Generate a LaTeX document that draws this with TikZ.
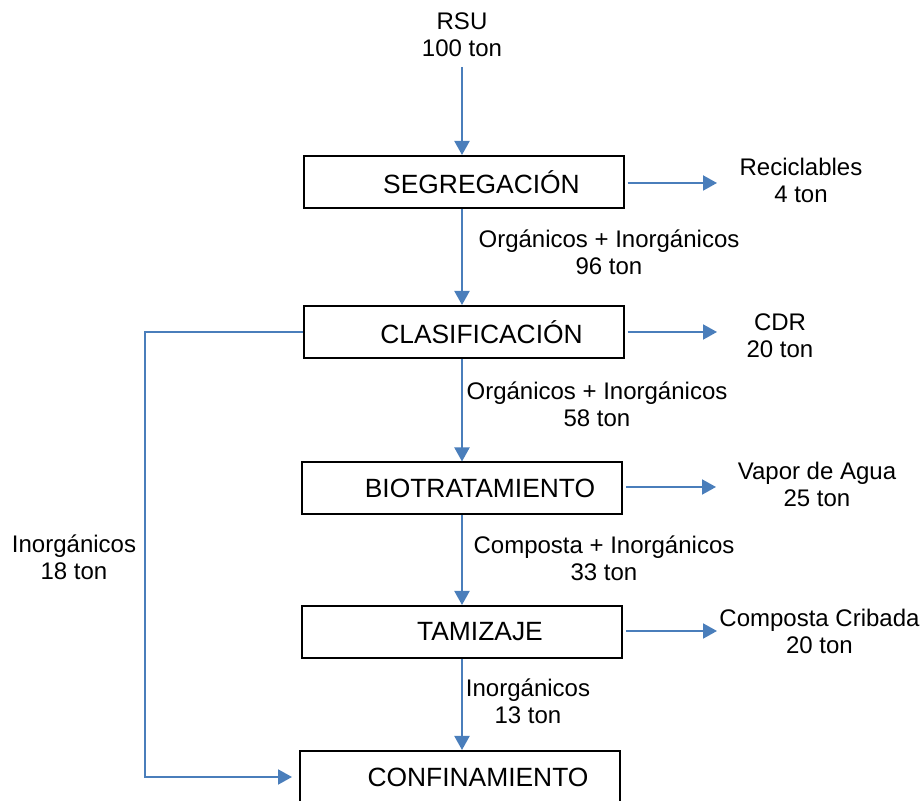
\documentclass[tikz,border=0pt]{standalone}
\usepackage{fontspec}
\setmainfont{Liberation Sans}
\usetikzlibrary{arrows.meta}
\definecolor{flowblue}{RGB}{74,126,187}

\begin{document}
\begin{tikzpicture}[x=0.5pt,y=-0.5pt,
  box/.style={draw, line width=1pt, minimum width=160pt, minimum height=26pt,
    inner sep=0pt, font=\fontsize{13.2}{14}\selectfont,
    execute at begin node={\hspace*{18pt}}},
  lbl/.style={align=center, inner sep=1pt, font=\fontsize{12}{13.5}\selectfont},
  flow/.style={draw=flowblue, line width=1pt,
    -{Triangle[width=7.5pt,length=7pt]}, fill=none}]
  \useasboundingbox (0,0) rectangle (922,801);

  % process boxes
  \node[box] (seg)  at (463.5,182)   {SEGREGACIÓN};
  \node[box] (cla)  at (463.5,332)   {CLASIFICACIÓN};
  \node[box] (bio)  at (462,488.5)   {BIOTRATAMIENTO};
  \node[box] (tam)  at (462,632)     {TAMIZAJE};
  \node[box] (conf) at (460,777)     {CONFINAMIENTO};

  % input
  \node[lbl] (rsu) at (462,34.5) {RSU\\100 ton};

  % outputs on the right
  \node[lbl] (rec)  at (801,180.5) {Reciclables\\4 ton};
  \node[lbl] (cdr)  at (780,335.5) {CDR\\20 ton};
  \node[lbl] (vap)  at (817,484.5) {Vapor de Agua\\25 ton};
  \node[lbl] (crib) at (819.5,631.5) {Composta Cribada\\20 ton};

  % arrow tips of the outputs
  \coordinate (recin)  at (717,183);
  \coordinate (cdrin)  at (717,332);
  \coordinate (vapin)  at (716,487);
  \coordinate (cribin) at (717,631);

  % flow labels
  \node[lbl] (org1) at (609,252.5) {Orgánicos + Inorgánicos\\96 ton};
  \node[lbl] (org2) at (597,404)   {Orgánicos + Inorgánicos\\58 ton};
  \node[lbl] (comp) at (604,558.5) {Composta + Inorgánicos\\33 ton};
  \node[lbl] (ino1) at (528,701.5) {Inorgánicos\\13 ton};
  \node[lbl] (ino2) at (74,557)    {Inorgánicos\\18 ton};

  % main line, kept on one vertical
  \coordinate (axis) at (462,0);
  \draw[flow] ([yshift=-4pt]rsu.south) -- (seg.north -| axis);
  \draw[flow] (seg.south -| axis) -- (cla.north -| axis);
  \draw[flow] (cla.south -| axis) -- (bio.north -| axis);
  \draw[flow] (bio.south -| axis) -- (tam.north -| axis);
  \draw[flow] (tam.south -| axis) -- (conf.north -| axis);

  % side outputs
  \draw[flow] ([xshift=1.5pt]seg.east |- recin) -- (recin);
  \draw[flow] ([xshift=1.5pt]cla.east |- cdrin) -- (cdrin);
  \draw[flow] ([xshift=1.5pt]bio.east |- vapin) -- (vapin);
  \draw[flow] ([xshift=1.5pt]tam.east |- cribin) -- (cribin);

  % bypass of the inorganic part
  \coordinate (loop) at (145,0);
  \draw[flow] (cla.west) -- (cla.west -| loop) |- ([xshift=-3.5pt]conf.west);

\end{tikzpicture}
\end{document}
